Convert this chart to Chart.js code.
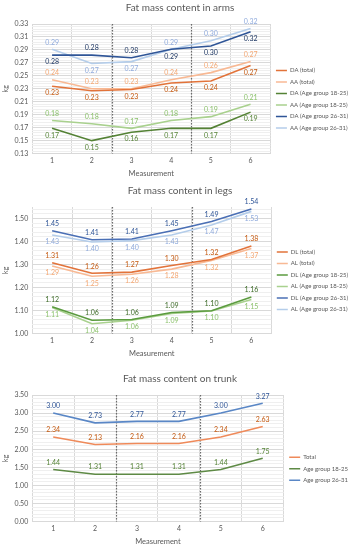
<!DOCTYPE html>
<html>
<head>
<meta charset="utf-8">
<script src="https://cdn.jsdelivr.net/npm/chart.js@4"></script>
<style>
    body { margin: 0; background: #fff; }
    .box { position: relative; width: 358px; }
</style>
</head>
<body>
<div class="box" style="height:180px"><canvas id="armsChart"></canvas></div>
<div class="box" style="height:185px"><canvas id="legsChart"></canvas></div>
<div class="box" style="height:185px"><canvas id="trunkChart"></canvas></div>

<script>
// DATA
const measurements = ['1', '2', '3', '4', '5', '6'];

const armsDaTotal = [0.234, 0.227, 0.229, 0.239, 0.242, 0.266];
const armsAaTotal = [0.244, 0.230, 0.230, 0.244, 0.255, 0.272];
const armsDa1825 = [0.169, 0.150, 0.163, 0.169, 0.169, 0.194];
const armsAa1825 = [0.181, 0.176, 0.169, 0.181, 0.187, 0.206];
const armsDa2631 = [0.282, 0.282, 0.278, 0.291, 0.296, 0.318];
const armsAa2631 = [0.291, 0.269, 0.272, 0.291, 0.304, 0.323];

const legsDlTotal = [1.308, 1.262, 1.267, 1.296, 1.322, 1.381];
const legsAlTotal = [1.294, 1.249, 1.258, 1.280, 1.318, 1.370];
const legsDl1825 = [1.117, 1.058, 1.061, 1.092, 1.099, 1.159];
const legsAl1825 = [1.113, 1.043, 1.058, 1.088, 1.098, 1.148];
const legsDl2631 = [1.447, 1.408, 1.411, 1.447, 1.487, 1.541];
const legsAl2631 = [1.428, 1.398, 1.404, 1.428, 1.472, 1.531];

const trunkTotal = [2.34, 2.13, 2.16, 2.16, 2.34, 2.63];
const trunk1825 = [1.44, 1.31, 1.31, 1.31, 1.44, 1.75];
const trunk2631 = [3.00, 2.73, 2.77, 2.77, 3.00, 3.27];

const FONT = 'Lato, "DejaVu Sans", sans-serif';
const GREY = '#595959';

// value labels next to each point
const pointLabels = {
    id: 'pointLabels',
    afterDatasetsDraw(chart) {
        const ctx = chart.ctx;
        ctx.save();
        ctx.font = '7px ' + FONT;
        ctx.textAlign = 'center';
        ctx.textBaseline = 'middle';
        chart.data.datasets.forEach((ds, i) => {
            const meta = chart.getDatasetMeta(i);
            meta.data.forEach((pt, j) => {
                const pos = Array.isArray(ds.labelPos) ? ds.labelPos[j] : ds.labelPos;
                const dy = pos === 'above' ? -7 : 7;
                ctx.fillStyle = ds.labelColor;
                ctx.fillText(ds.data[j].toFixed(2), pt.x, pt.y + dy);
            });
        });
        ctx.restore();
    }
};

// dotted dividers between measurement 2|3 and 4|5
const dividers = {
    id: 'dividers',
    beforeDatasetsDraw(chart) {
        const ctx = chart.ctx;
        const area = chart.chartArea;
        const x = chart.scales.x;
        ctx.save();
        ctx.strokeStyle = '#6b6b6b';
        ctx.lineWidth = 1.2;
        ctx.setLineDash([1.5, 1.5]);
        [1.5, 3.5].forEach((v) => {
            const px = Math.round(x.getPixelForValue(v)) + 0.5;
            ctx.beginPath();
            ctx.moveTo(px, area.top);
            ctx.lineTo(px, area.bottom);
            ctx.stroke();
        });
        ctx.restore();
    }
};

function line(label, data, color, labelColor, labelPos, width) {
    return {
        label: label,
        data: data,
        borderColor: color,
        backgroundColor: color,
        borderWidth: width || 1.6,
        pointRadius: 0,
        tension: 0,
        labelColor: labelColor,
        labelPos: labelPos
    };
}

function makeChart(id, title, datasets, yMin, yMax, step, majorEvery, minorEvery, pad, titleGap) {

    const ctx = document.getElementById(id).getContext('2d');

    return new Chart(ctx, {
        type: 'line',
        data: { labels: measurements, datasets: datasets },
        plugins: [dividers, pointLabels],
        options: {
            responsive: true,
            maintainAspectRatio: false,
            animation: false,
            layout: { padding: pad },
            plugins: {
                title: {
                    display: true,
                    text: title,
                    color: GREY,
                    font: { family: FONT, size: 10, weight: 'normal' },
                    padding: { top: 2, bottom: titleGap }
                },
                legend: {
                    position: 'right',
                    title: {
                        display: true,
                        text: ' ',
                        font: { size: 12 },
                        padding: { top: 0, bottom: 6 }
                    },
                    labels: {
                        color: GREY,
                        font: { family: FONT, size: 6 },
                        usePointStyle: true,
                        pointStyle: 'line',
                        pointStyleWidth: 11,
                        boxWidth: 11,
                        boxHeight: 6,
                        padding: 5.5
                    }
                },
                tooltip: { enabled: false }
            },
            scales: {
                x: {
                    offset: true,
                    grid: { offset: true, color: '#d9d9d9', drawTicks: false },
                    border: { display: false },
                    ticks: { color: GREY, font: { family: FONT, size: 7 }, padding: 3 },
                    title: {
                        display: true,
                        text: 'Measurement',
                        color: GREY,
                        font: { family: FONT, size: 7.5 },
                        padding: { top: 1, bottom: 0 }
                    }
                },
                y: {
                    min: yMin,
                    max: yMax,
                    grid: {
                        drawTicks: false,
                        color: (c) => {
                            if (c.index % majorEvery === 0) return '#d9d9d9';
                            if (c.index % minorEvery === 0) return '#efefef';
                            return 'rgba(0,0,0,0)';
                        }
                    },
                    border: { display: false },
                    ticks: {
                        stepSize: step,
                        autoSkip: false,
                        color: GREY,
                        font: { family: FONT, size: 7 },
                        padding: 4,
                        callback: (v, i) => (i % majorEvery === 0 ? v.toFixed(2) : '')
                    },
                    title: {
                        display: true,
                        text: 'kg',
                        color: GREY,
                        font: { family: FONT, size: 7 },
                        padding: 0
                    }
                }
            }
        }
    });
}

makeChart('armsChart', 'Fat mass content in arms', [
    line('DA (total)', armsDaTotal, '#e2733a', '#c55a11', 'below'),
    line('AA (total)', armsAaTotal, '#f8b994', '#f4a772', 'above'),
    line('DA (Age group 18-25)', armsDa1825, '#548235', '#548235', 'below'),
    line('AA (Age group 18-25)', armsAa1825, '#a9d18e', '#8cc26c', 'above'),
    line('DA (Age group 26-31)', armsDa2631, '#2f5597', '#1f3864',
        ['below', 'above', 'above', 'below', 'below', 'below']),
    line('AA (Age group 26-31)', armsAa2631, '#b4cdea', '#8faadc',
        ['above', 'below', 'below', 'above', 'above', 'above'])
], 0.13, 0.33, 0.004, 5, 1, { left: 2, right: 0, top: 0, bottom: 2 }, 10);

makeChart('legsChart', 'Fat mass content in legs', [
    line('DL (total)', legsDlTotal, '#e2733a', '#c55a11', 'above'),
    line('AL (total)', legsAlTotal, '#f8b994', '#f4a772', 'below'),
    line('DL (Age group 18-25)', legsDl1825, '#5b9b3f', '#3d6b28', 'above'),
    line('AL (Age group 18-25)', legsAl1825, '#a9d18e', '#8cc26c', 'below'),
    line('DL (Age group 26-31)', legsDl2631, '#4a6fb5', '#2f5597', 'above'),
    line('AL (Age group 26-31)', legsAl2631, '#b4cdea', '#8faadc', 'below')
], 1.00, 1.55, 0.01, 10, 2, { left: 2, right: 0, top: 3, bottom: 7 }, 10);

makeChart('trunkChart', 'Fat mass content on trunk', [
    line('Total', trunkTotal, '#ef8a5a', '#c55a11', 'above'),
    line('Age group 18-25', trunk1825, '#5e8a45', '#548235', 'above'),
    line('Age group 26-31', trunk2631, '#5a87c6', '#2f5597', 'above')
], 0, 3.5, 0.1, 5, 1, { left: 2, right: 0, top: 6, bottom: 4 }, 10);
</script>
</body>
</html>
